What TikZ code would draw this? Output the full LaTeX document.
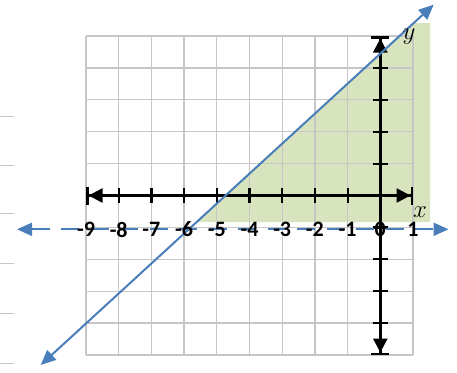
\documentclass[tikz,border=0pt]{standalone}
\usepackage{fontspec}
\setmainfont{Carlito}
\usetikzlibrary{arrows.meta}
\definecolor{shadegreen}{HTML}{D7E4BD}
\definecolor{gridgray}{HTML}{C6C6C6}
\definecolor{lineblue}{HTML}{4A7EBB}
\begin{document}
\begin{tikzpicture}[x=1pt,y=-1pt,
  gridline/.style={gridgray,line width=1.3pt},
  axisline/.style={black,line width=2.5pt},
  tickmark/.style={black,line width=2.2pt},
  blueline/.style={lineblue,line width=2pt},
  axtip/.style={{Bar[width=18pt,sep=0pt]Triangle[length=14pt,width=14pt,sep=0pt]}-{Triangle[length=14pt,width=14pt,sep=0pt]Bar[width=18pt,sep=0pt]}},
  bluetip/.style={{Triangle[length=15pt,width=13pt]}-{Triangle[length=15pt,width=13pt]}},
  numlabel/.style={font=\fontsize{22}{22}\selectfont\bfseries,inner sep=0pt},
  varlabel/.style={font=\fontsize{28}{28}\selectfont,inner sep=0pt},
  marginline/.style={gridgray,line width=1pt}]
\useasboundingbox (0,0) rectangle (457,372);
% shaded region
\fill[shadegreen] (196.7,222) -- (430,222) -- (430,23) -- (413.7,23) -- cycle;
% grid
\foreach \i in {0,...,10} {
  \draw[gridline] ({86+32.7*\i},36) -- ({86+32.7*\i},355);
  \draw[gridline] (86,{36+31.9*\i}) -- (413,{36+31.9*\i});
}
% margin marks
\foreach \yy in {116,165,213,263,313,363} {
  \draw[marginline] (0,\yy) -- (14,\yy);
}
% axes
\coordinate (xl) at (86,195.5);
\coordinate (xr) at (413,195.5);
\coordinate (yt) at (380.3,36);
\coordinate (yb) at (380.3,355);
\draw[axisline,axtip] (xl) -- (xr);
\draw[axisline,axtip] (yt) -- (yb);
\foreach \i in {1,...,8} {
  \draw[tickmark] ({86+32.7*\i},188) -- ({86+32.7*\i},203);
}
\foreach \j in {1,2,3,4,6,7,8,9} {
  \draw[tickmark] (372.8,{36+31.9*\j}) -- (387.8,{36+31.9*\j});
}
% boundary lines
\coordinate (sa) at (40.7,365);
\coordinate (sb) at (433.7,4.7);
\draw[blueline,bluetip] (sa) -- (sb);
\coordinate (da) at (17,229.3);
\coordinate (db) at (448.5,229.3);
\draw[blueline,bluetip,dash pattern=on 18pt off 11.5pt] (da) -- (db);
% labels
\foreach \v [count=\i from 0] in {-9,-8,...,1} {
  \node[numlabel] (n\i) at ({86+32.7*\i},229.5) {\v};
}
\node[varlabel] (xlab) at (420,212) {$x$};
\node[varlabel] (ylab) at (409,37) {$y$};
\end{tikzpicture}
\end{document}
